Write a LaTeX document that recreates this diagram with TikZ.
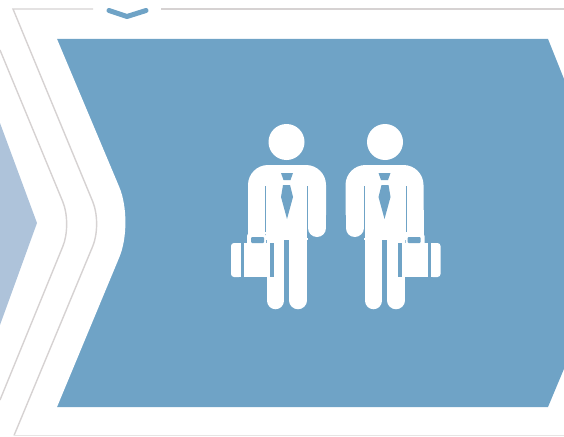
\documentclass[tikz,border=0pt]{standalone}
\usepackage[dvipsnames]{xcolor}
\usepackage{tikz}
\definecolor{stepblue}{HTML}{6FA3C6}
\definecolor{paleblue}{HTML}{AEC3DA}
\definecolor{railgray}{HTML}{D6D2D2}
\newcommand{\manfigure}{%
  % head, limbs, torso
  \fill[white] (286.5,142) circle (18);
  \draw[limb] (275.5,235) -- (275.5,300.5);
  \draw[limb] (298,235) -- (298,300.5);
  \draw[limb,line width=18] (317,190) -- (317,228);
  \fill[white,rounded corners=20] (248,215) -- (248,165) -- (326,165) -- (326,215);
  \fill[white] (248,210) rectangle (266,234);
  \fill[white] (266,210) rectangle (307.5,240);
  \draw[gapline] (265.5,186) -- (265.5,232);
  \draw[gapline] (307.5,186) -- (307.5,238);
  % tie
  \fill[stepblue] (281,173) -- (293,173) -- (290.5,180) -- (283.5,180) -- cycle;
  \fill[stepblue] (283,185) -- (290,185) -- (293,197) -- (287,219) -- (281,197) -- cycle;
  % briefcase
  \fill[stepblue] (270,243) rectangle (274,277);
  \fill[stepblue] (241,243) rectangle (244,277);
  \fill[white] (244,243) rectangle (270,277);
  \fill[white] (238,243) rectangle (241,277);
  \fill[white,rounded corners=3] (239,243) -- (231,243) -- (231,277) -- (239,277);
  \fill[white,rounded corners=2.5] (247,245) -- (247,233.5) -- (266,233.5) -- (266,245);
  \fill[stepblue,rounded corners=1] (251,243) -- (251,237) -- (264,237) -- (264,243) -- cycle;
}
\begin{document}
\begin{tikzpicture}[x=1pt,y=-1pt,
    limb/.style={white,line width=17.5,line cap=round},
    gapline/.style={stepblue,line width=0.8},
    rail/.style={railgray,line width=1.4}]
  \useasboundingbox (0,0) rectangle (564,436);
  \clip (0,0) rectangle (564,436);
  % current step
  \fill[stepblue] (57,39) -- (548,39) -- (566,84) -- (566,364) -- (548,407) -- (57,407) -- (80,222) -- cycle;
  \fill[white,rounded corners=38] (57,39) -- (134,222) -- (57,407);
  % previous step
  \fill[paleblue] (0,123) -- (37,223) -- (0,325) -- cycle;
  % rails
  \draw[rail,rounded corners=24] (0,50) -- (72,224) -- (0,400);
  \draw[rail] (93,9) -- (13,9) -- (54.8,110);
  \draw[rail,rounded corners=24] (54.8,110) -- (102,224) -- (14,435.5);
  \draw[rail] (161,9) -- (564,9);
  \draw[railgray!60,line width=0.8] (14,435.5) -- (564,435.5);
  % chevron mark
  \draw[stepblue,line width=5,line cap=round,line join=round] (109,10.5) -- (127,16.5) -- (146,10.5);
  % two men
  \begin{scope}
    \manfigure
  \end{scope}
  \begin{scope}[xshift=671.5pt,xscale=-1]
    \manfigure
  \end{scope}
\end{tikzpicture}
\end{document}
